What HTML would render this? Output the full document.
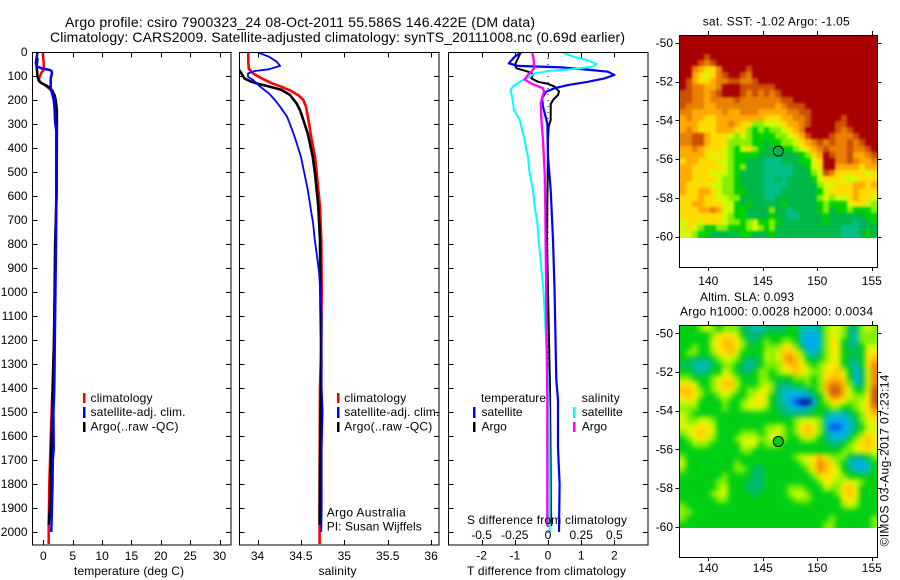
<!DOCTYPE html>
<html>
<head>
<meta charset="utf-8">
<title>Argo profile</title>
<style>
html,body{margin:0;padding:0;background:#fff;}
svg{display:block;}
text{font-family:"Liberation Sans",sans-serif;font-size:12px;fill:#000;}
</style>
</head>
<body>
<svg id="fig" width="900" height="580" viewBox="0 0 900 580" xmlns="http://www.w3.org/2000/svg">
<defs>
<clipPath id="clipT"><rect x="33" y="52" width="198" height="493"/></clipPath>
<clipPath id="clipS"><rect x="240" y="52" width="199" height="493"/></clipPath>
<clipPath id="clipD"><rect x="449" y="52" width="199" height="493"/></clipPath>
<clipPath id="clip-sst"><rect x="680" y="35" width="198" height="203"/></clipPath>
<clipPath id="clip-sla"><rect x="680" y="325" width="198" height="203"/></clipPath>
<filter id="blur-sst" filterUnits="userSpaceOnUse" x="660" y="15" width="240" height="245" color-interpolation-filters="sRGB"><feGaussianBlur stdDeviation="1.2"/></filter>
<filter id="blur-sla" filterUnits="userSpaceOnUse" x="660" y="305" width="240" height="245" color-interpolation-filters="sRGB"><feGaussianBlur stdDeviation="2.6"/></filter>
</defs>
<text x="65" y="27" style="font-size:14px" textLength="470">Argo profile: csiro 7900323_24 08-Oct-2011 55.586S 146.422E (DM data)</text>
<text x="50" y="42" style="font-size:14px" textLength="575">Climatology: CARS2009. Satellite-adjusted climatology: synTS_20111008.nc (0.69d earlier)</text>
<g id="panels"></g>
<g id="legend-t">
<rect x="83" y="393" width="2.5" height="10" fill="#ff0000"/>
<rect x="83" y="407" width="2.5" height="11" fill="#0000ff"/>
<rect x="83" y="422" width="2.5" height="10" fill="#000"/>
<text x="90.5" y="402" textLength="62">climatology</text>
<text x="90.5" y="416" textLength="95">satellite-adj. clim.</text>
<text x="90.5" y="430.5" textLength="88">Argo(..raw -QC)</text>
</g>
<g id="legend-s">
<rect x="337" y="393" width="2.5" height="10" fill="#ff0000"/>
<rect x="337" y="407" width="2.5" height="11" fill="#0000ff"/>
<rect x="337" y="422" width="2.5" height="10" fill="#000"/>
<text x="344.3" y="402" textLength="62">climatology</text>
<text x="344.3" y="416" textLength="95">satellite-adj. clim.</text>
<text x="344.3" y="430.5" textLength="88">Argo(..raw -QC)</text>
</g>
<g id="legend-d">
<text x="481" y="402" textLength="65">temperature</text>
<rect x="473" y="407" width="2.5" height="11" fill="#0000ff"/>
<text x="481.5" y="416" textLength="41">satellite</text>
<rect x="473" y="422" width="2.5" height="10" fill="#000"/>
<text x="481.5" y="430.5">Argo</text>
<text x="581.7" y="402" textLength="38">salinity</text>
<rect x="573" y="407" width="2.5" height="11" fill="#00ffff"/>
<text x="581.7" y="416" textLength="41">satellite</text>
<rect x="573" y="422" width="2.5" height="10" fill="#ff00ff"/>
<text x="581.7" y="430.5">Argo</text>
</g>
<text x="74" y="575" textLength="110">temperature (deg C)</text>
<text x="318.5" y="575" textLength="38">salinity</text>
<text x="467" y="575" textLength="159">T difference from climatology</text>
<text x="467" y="524" textLength="160">S difference from climatology</text>
<text x="326.7" y="516.7" textLength="79">Argo Australia</text>
<text x="326.7" y="530.7" textLength="95">PI: Susan Wijffels</text>
<text x="702.7" y="25.7" textLength="147">sat. SST: -1.02  Argo: -1.05</text>
<text x="700" y="301" textLength="94">Altim. SLA: 0.093</text>
<text x="680" y="315.7" textLength="193">Argo h1000: 0.0028 h2000: 0.0034</text>
<text transform="translate(888.5,546.5) rotate(-90)" x="0" y="0" textLength="172">©IMOS 03-Aug-2017 07:23:14</text>
</svg>
<script>
// ---- profile data (depth in m) ----
const depthTicks = [0,100,200,300,400,500,600,700,800,900,1000,1100,1200,1300,1400,1500,1600,1700,1800,1900,2000];
const tempTicks = [0,5,10,15,20,25,30];
const salTicks = [34,34.5,35,35.5,36];
const salTickLabels = ['34','34.5','35','35.5','36'];
const diffTTicks = [-2,-1,0,1,2];
const diffSTicks = [-0.5,-0.25,0,0.25,0.5];
const diffSTickLabels = ['-0.5','-0.25','0','0.25','0.5'];

const tempClimDepth = [0,46,75,85,110,124,135,155,180,200,240,300,600,800,1000,1200,1400,1500,1650,1800,1975,2050];
const tempClim = [-0.12,0.05,0.05,-0.3,-0.75,-0.65,0.1,1.1,1.8,2.0,2.2,2.25,2.2,2.05,1.95,1.8,1.55,1.4,1.2,1.0,0.9,0.9];
const tempArgoDepth = [25,60,100,120,130,140,150,160,180,200,240,310,600,800,1000,1200,1400,1500,1700,1900,1970];
const tempArgo = [-1,-1.15,-1,-0.8,-0.3,0.55,1.1,1.5,1.9,2.1,2.3,2.3,2.25,2.0,1.9,1.8,1.6,1.5,1.3,1.1,0.9];
const tempSatDepth = [0,25,45,60,68,75,80,90,110,150,170,200,240,290,330,600,800,1000,1200,1400,1500,1650,1700,1800,1900,2000];
const tempSat = [-1,-1.15,-1.3,-1.15,-0.3,1.1,1.4,1.45,1.25,1.25,1.45,1.75,1.9,2.0,2.2,2.2,2.15,2.05,1.95,1.86,1.7,1.75,1.6,1.55,1.45,1.35];

const salClimDepth = [0,40,70,90,110,130,145,160,180,200,228,297,367,436,505,644,783,1000,1200,1400,1800,2050];
const salClim = [33.894,33.894,33.9,33.952,34.048,34.163,34.278,34.374,34.47,34.528,34.559,34.593,34.624,34.662,34.682,34.72,34.735,34.74,34.735,34.72,34.715,34.715];
const salArgoDepth = [75,110,124,133,144,158,179,214,242,283,339,436,506,644,783,1000,1300,1700,1970];
const salArgo = [33.79,33.85,33.93,34.01,34.14,34.278,34.374,34.45,34.49,34.528,34.578,34.636,34.662,34.7,34.72,34.725,34.735,34.72,34.715];
const salSatDepth = [3,19,40,58,72,79,89,103,117,144,172,200,228,269,325,367,436,506,575,644,714,783,917,1100,1400,1500,1650,1900,2000];
const salSat = [34.01,34.13,34.22,34.26,34.13,33.97,33.89,33.89,33.95,34.03,34.13,34.2,34.26,34.34,34.4,34.44,34.5,34.54,34.58,34.61,34.64,34.66,34.71,34.74,34.74,34.75,34.74,34.74,34.735];

const dTSatDepth = [0,19,47,58,64,75,82,96,110,124,138,151,165,193,228,297,436,575,783,1000,1367,1450,1650,1800,2000];
const dTSat = [-0.78,-1.0,-1.18,-0.9,0.4,1.3,1.8,2.0,1.7,1.2,0.6,0.2,-0.05,-0.18,-0.15,-0.02,0,0.08,0.15,0.2,0.25,0.3,0.3,0.35,0.33];
const dTArgoDepth = [0,19,54,68,82,92,110,124,133,144,165,179,200,217,283,311,367,783,1400,1900,1975];
const dTArgo = [-0.82,-0.88,-1.0,-0.95,-0.6,-0.45,-0.5,-0.3,0,0.2,0.33,0.3,0.15,0.08,0.08,0.02,0,-0.03,0.06,0.09,0.1];
const dSSatDepth = [3,19,33,50,61,71,78,89,103,124,144,158,193,242,283,367,436,506,575,644,714,783,1000,1200,1367,1500,1800,2000];
const dSSat = [0.113,0.188,0.289,0.364,0.339,0.201,0.025,-0.1,-0.138,-0.213,-0.264,-0.281,-0.269,-0.256,-0.213,-0.176,-0.151,-0.138,-0.113,-0.1,-0.08,-0.07,-0.033,-0.015,0,0.008,0.013,0.013];
const dSArgoDepth = [3,33,68,82,96,114,128,138,151,165,193,214,283,367,506,644,783,1450,1975];
const dSArgo = [-0.118,-0.108,-0.105,-0.126,-0.151,-0.176,-0.138,-0.1,-0.038,-0.03,-0.045,-0.055,-0.05,-0.038,-0.025,-0.02,-0.018,-0.005,-0.005];

// ---- map data ----
const lonTicks = [140,145,150,155];
const latTicks = [-50,-52,-54,-56,-58,-60];
const argoLon = 146.422;
const argoLat = -55.586;
const sstAtArgo = 1;
const slaAtArgo = 5;
const sstColors = ['#00bf88','#00b84a','#00d000','#82f000','#d2fa00','#ffdc00','#ffaa00','#e88000','#cc5000','#a80000'];
const slaColors = ['#00008c','#0050f0','#00aaf0','#00bebe','#00b96e','#00cf14','#82f000','#d2fa00','#ffe600','#ffbe00','#f08200','#be5a0a'];
const sstGrid = [
[9,9,9,9,9,9,9,9,9,9,9,9,9,9,9,9,9,9,9,9,9,9,9,9,9,9,9,9,9,9,9,9,9],
[9,9,9,9,9,9,9,9,9,9,9,9,9,9,9,9,9,9,9,9,9,9,9,9,9,9,9,9,9,9,9,9,9],
[9,9,9,9,9,9,9,9,9,9,9,9,9,9,9,9,9,9,9,9,9,9,9,9,9,9,9,9,9,9,9,9,9],
[9,9,9,9,8,9,9,9,9,9,9,9,9,9,9,9,9,9,9,9,9,9,9,9,9,9,9,9,9,9,9,9,9],
[9,9,9,8,7,8,9,9,9,9,9,9,9,9,9,9,9,9,9,9,9,9,9,9,9,9,9,9,9,9,9,9,9],
[9,9,7,6,5,5,7,9,9,9,9,8,9,9,9,9,9,9,9,9,9,9,9,9,9,9,9,9,9,9,9,9,9],
[9,9,6,5,4,5,7,8,9,9,8,7,9,9,9,9,9,9,9,9,9,9,9,9,9,9,9,9,9,9,9,9,9],
[9,8,6,5,5,6,7,7,8,8,7,7,8,9,9,9,9,9,9,9,9,9,9,9,9,9,9,9,9,9,9,9,9],
[9,8,7,7,6,6,7,9,9,9,8,8,8,8,8,8,9,9,9,9,9,9,9,9,9,9,9,9,9,9,9,9,9],
[8,8,7,7,6,7,8,9,9,9,8,7,8,7,8,7,8,9,9,9,9,9,9,9,9,9,9,9,9,9,9,9,9],
[8,8,7,7,6,7,7,7,7,8,7,7,7,7,7,7,7,8,8,9,9,9,9,9,9,9,9,9,9,9,9,9,9],
[8,7,7,7,6,6,7,7,7,7,7,7,7,7,7,7,6,7,8,8,8,9,9,9,9,9,9,9,9,9,9,9,9],
[7,7,6,6,6,6,6,7,6,6,7,7,7,6,6,6,6,6,7,7,8,8,9,9,9,9,9,9,9,9,9,9,9],
[6,7,6,6,5,5,6,6,6,6,6,6,6,6,5,5,5,6,6,7,7,8,9,9,9,9,9,8,9,9,9,9,9],
[6,6,6,5,5,5,6,6,7,6,5,5,3,3,4,4,4,5,6,6,7,8,9,9,9,9,8,8,9,9,9,9,9],
[6,7,6,5,5,5,6,6,6,5,5,3,2,3,2,3,3,4,5,6,7,9,9,9,9,9,8,7,8,9,9,9,9],
[7,7,8,8,6,5,5,5,4,3,4,3,2,2,2,2,3,3,4,5,6,8,9,9,9,8,7,7,7,8,9,9,9],
[7,7,8,8,6,5,5,5,3,3,3,3,2,2,1,2,2,3,3,4,5,6,7,8,7,8,7,7,8,7,8,9,9],
[6,6,7,6,5,5,5,4,3,2,4,5,3,2,1,1,1,2,2,3,4,5,6,7,8,7,7,7,8,7,7,8,9],
[6,6,6,6,5,4,5,4,3,2,2,2,2,1,1,1,0,1,1,1,2,3,5,6,9,8,7,7,8,6,6,7,8],
[5,6,6,5,5,5,4,4,3,2,2,1,1,1,0,0,0,1,1,1,2,2,4,5,9,9,7,7,8,7,6,6,7],
[6,6,5,5,5,5,5,4,3,2,3,1,1,1,0,0,0,0,0,1,1,2,4,5,9,9,6,6,6,6,5,6,6],
[6,6,5,5,5,4,4,4,3,2,1,1,1,1,0,0,0,0,0,1,1,1,3,4,8,7,5,5,5,5,5,4,5],
[6,6,5,5,5,5,4,3,3,2,1,1,1,1,0,0,1,0,1,1,1,1,2,4,5,5,5,4,4,4,5,5,5],
[6,5,5,5,5,4,4,3,3,2,1,1,1,1,0,0,0,0,1,1,1,1,1,3,4,4,5,5,5,6,6,5,6],
[6,5,5,6,6,5,4,3,3,2,2,1,1,1,0,0,0,1,1,1,1,1,1,2,4,5,5,5,5,6,5,5,5],
[5,5,5,6,5,5,4,4,3,3,1,1,1,1,0,0,1,1,1,1,1,1,1,3,4,3,4,4,5,6,5,5,4],
[5,5,6,6,5,5,5,4,4,2,1,2,1,1,1,1,1,2,1,1,1,1,1,2,3,2,2,2,4,5,5,4,3],
[5,5,5,6,6,7,6,4,4,2,2,1,1,1,1,3,1,1,0,1,1,1,1,2,3,1,2,2,3,2,2,2,3],
[5,5,5,5,5,5,5,4,3,2,2,1,1,1,1,2,1,1,0,0,1,1,1,1,2,1,1,1,1,1,1,2,2],
[4,5,5,4,5,5,5,4,3,3,2,3,4,2,2,3,2,1,1,1,1,1,1,1,2,1,1,1,1,0,1,1,2],
[4,5,4,3,2,2,3,3,2,2,2,3,4,3,2,3,1,1,1,1,1,1,1,1,1,1,1,0,0,0,1,1,1],
[4,4,3,2,2,1,1,1,1,1,2,2,1,1,1,2,1,1,1,1,1,1,1,1,1,1,1,0,0,0,1,2,1]
];
const slaGrid = [
[5,5,5,6,7,6,5,6,6,6,4,4,3,3,4,4,4,4,5,5,3,3,3,4,6,7,7,6,4,4,6,7,6],
[5,5,5,5,5,6,8,8,8,7,5,4,4,4,5,5,5,5,5,5,3,2,2,3,6,8,7,6,4,3,6,6,6],
[5,5,5,5,5,7,8,9,9,8,6,4,4,5,6,5,5,6,6,5,3,2,2,3,6,8,7,5,4,3,6,6,6],
[5,5,6,5,5,7,8,9,9,8,6,5,5,5,6,6,6,8,8,6,4,2,2,3,6,8,8,5,4,4,5,7,7],
[5,6,6,5,5,6,8,8,9,7,5,5,5,5,7,6,7,9,9,8,6,3,3,4,6,7,8,5,5,4,5,8,8],
[5,5,4,4,4,5,6,7,7,6,5,4,4,5,7,6,7,9,10,9,7,5,4,5,6,8,7,5,4,4,5,8,9],
[4,4,3,3,3,4,5,6,6,5,4,3,4,5,6,6,6,8,9,9,8,6,5,6,7,8,8,5,4,3,5,8,10],
[5,5,4,3,4,5,5,7,6,5,4,4,5,6,6,5,6,7,8,9,8,7,6,6,8,8,9,7,5,2,4,7,10],
[6,6,5,5,5,6,7,8,8,6,5,5,5,6,6,5,5,5,5,6,6,6,5,6,8,9,9,8,5,2,4,7,10],
[8,8,7,5,5,6,8,9,9,7,5,5,5,6,7,6,4,4,4,5,5,6,5,6,9,10,10,9,6,3,4,7,10],
[9,9,8,6,5,6,7,8,8,6,5,6,6,7,8,6,4,3,3,3,3,4,5,6,9,11,11,9,7,5,5,8,11],
[8,9,8,6,5,5,6,7,6,5,5,6,7,8,7,5,4,3,2,2,2,2,4,5,8,10,10,9,7,6,6,8,11],
[7,7,7,5,5,5,5,6,5,5,6,7,8,8,7,5,4,3,2,1,0,0,2,5,6,8,8,7,6,6,7,8,11],
[6,6,6,5,5,5,5,6,5,5,6,7,7,7,6,5,4,4,3,2,2,3,4,5,5,6,6,5,5,6,7,8,10],
[7,6,5,5,5,5,5,5,5,5,5,5,5,5,5,5,5,4,4,4,4,4,5,5,4,3,3,3,4,5,6,8,9],
[7,6,6,7,7,6,5,5,5,5,5,5,5,5,5,5,5,5,5,6,7,7,7,6,3,2,2,2,3,4,6,7,8],
[7,7,8,8,8,7,5,5,5,5,5,5,5,5,6,6,7,6,5,6,8,9,8,6,3,1,1,2,3,4,5,7,7],
[6,7,8,9,8,7,5,5,5,5,6,6,6,5,6,7,7,6,5,6,8,9,8,6,4,2,2,2,3,5,6,8,7],
[5,6,7,8,7,6,5,5,5,6,7,7,7,6,6,7,6,6,5,5,6,7,6,5,4,3,3,3,5,6,8,9,8],
[5,5,6,6,6,5,5,5,5,5,7,7,7,5,6,6,6,5,5,5,5,5,5,5,5,4,4,5,6,7,8,9,8],
[5,5,5,5,5,5,5,5,5,5,6,6,5,5,5,5,5,5,5,5,5,5,5,5,5,5,5,6,6,7,8,8,7],
[6,5,5,5,5,5,5,5,5,5,5,5,5,5,5,5,5,5,5,6,7,7,8,9,8,6,6,6,4,4,4,5,6],
[7,5,5,5,5,5,5,5,5,6,5,5,5,5,5,5,5,5,5,5,6,7,8,10,9,8,6,5,3,2,2,3,5],
[6,5,5,5,5,5,5,5,5,6,6,5,4,4,5,5,5,5,5,5,5,6,8,10,9,8,7,5,4,3,2,3,5],
[5,5,5,5,5,5,5,6,5,5,5,5,4,4,5,5,5,5,5,5,5,5,6,8,8,8,7,6,5,5,5,5,5],
[5,5,5,5,5,5,6,6,5,5,5,4,4,4,5,5,5,5,5,5,5,5,5,6,8,7,6,7,8,7,6,5,5],
[5,5,5,5,5,5,6,7,5,5,5,4,4,4,5,5,5,5,6,6,6,5,5,5,7,6,6,8,9,7,5,5,5],
[5,5,5,5,5,6,7,7,5,5,5,5,4,5,5,5,5,5,6,7,7,6,5,5,5,5,6,8,9,8,5,5,5],
[5,5,5,5,5,5,6,6,5,5,5,5,5,5,5,5,5,5,5,6,6,6,5,5,5,5,5,8,8,7,5,5,5],
[6,5,5,5,5,5,5,5,5,5,5,5,5,5,5,5,5,5,5,5,5,5,5,5,5,5,5,6,7,6,5,5,5],
[6,6,5,5,5,5,5,5,5,5,5,5,5,5,5,5,5,5,5,5,5,5,5,5,5,5,5,5,5,5,5,5,5],
[6,5,5,5,5,5,5,5,5,5,5,5,5,5,5,5,5,5,5,5,5,5,5,5,5,6,5,5,5,5,5,5,6],
[5,5,5,5,5,5,5,5,5,5,5,5,5,5,5,5,5,5,5,5,5,5,5,5,6,6,5,5,5,5,5,5,6]
];

// ---- axis functions ----
const NS = 'http://www.w3.org/2000/svg';
const root = document.getElementById('panels');
function mk(tag, attrs, parent) {
  const el = document.createElementNS(NS, tag);
  for (const k in attrs) el.setAttribute(k, attrs[k]);
  (parent || root).appendChild(el);
  return el;
}
const depthY = d => 52 + d * 0.24;
const tempX = t => 43.4 + t * 5.87;
const salX = s => 257.5 + (s - 34) * 86.8;
const diffTX = t => 548 + t * 33.2;
const diffSX = s => 548 + s * 132.8;

function frame(name, x, y, w, h) {
  const r = mk('rect', {x: x, y: y, width: w, height: h, fill: 'none', stroke: '#000', 'stroke-width': 1, 'shape-rendering': 'crispEdges'});
  
  
}
function tick(name, x1, y1, x2, y2) {
  const l = mk('line', {x1: x1, y1: y1, x2: x2, y2: y2, stroke: '#000', 'stroke-width': 1, 'shape-rendering': 'crispEdges'});
  
  
}
function label(name, x, y, str, anchor) {
  const t = mk('text', {x: x, y: y, 'text-anchor': anchor || 'middle'});
  t.textContent = str;
  
  
}
function series(name, depths, vals, xf, color, width, clip) {
  const pts = depths.map((d, i) => xf(vals[i]).toFixed(1) + ',' + depthY(d).toFixed(1)).join(' ');
  const p = mk('polyline', {points: pts, fill: 'none', stroke: color, 'stroke-width': width, 'stroke-linejoin': 'round', 'clip-path': 'url(#' + clip + ')'});
  
  
}

// ---- temperature panel ----
series('temperature-climatology-line', tempClimDepth, tempClim, tempX, '#ff0000', 2.5, 'clipT');
series('temperature-argo-line', tempArgoDepth, tempArgo, tempX, '#000000', 2.5, 'clipT');
series('temperature-satellite-line', tempSatDepth, tempSat, tempX, '#0000ff', 2.5, 'clipT');
frame('temperature-plot-frame', 32.5, 52.5, 198.5, 492.5);
depthTicks.forEach(d => {
  const y = Math.round(depthY(d)) + 0.5;
  tick('depth-tick', 32.5, y, 37.5, y);
  tick('depth-tick-right', 226, y, 231, y);
  label('depth-tick-label', 27.5, depthY(d) + 4, String(d), 'end');
});
tempTicks.forEach(t => {
  const x = Math.round(tempX(t)) + 0.5;
  tick('temperature-tick', x, 545, x, 540);
  tick('temperature-tick-top', x, 52.5, x, 57.5);
  label('temperature-tick-label', tempX(t), 560, String(t));
});

// ---- salinity panel ----
series('salinity-climatology-line', salClimDepth, salClim, salX, '#ff0000', 2.6, 'clipS');
series('salinity-argo-line', salArgoDepth, salArgo, salX, '#000000', 2.6, 'clipS');
series('salinity-satellite-line', salSatDepth, salSat, salX, '#0000ff', 1.8, 'clipS');
frame('salinity-plot-frame', 239.5, 52.5, 199.5, 492.5);
depthTicks.forEach(d => {
  const y = Math.round(depthY(d)) + 0.5;
  tick('salinity-depth-tick', 239.5, y, 244.5, y);
  tick('salinity-depth-tick-right', 434, y, 439, y);
});
salTicks.forEach((s, i) => {
  const x = Math.round(salX(s)) + 0.5;
  tick('salinity-tick', x, 545, x, 540);
  tick('salinity-tick-top', x, 52.5, x, 57.5);
  label('salinity-tick-label', salX(s), 560, salTickLabels[i]);
});

// ---- difference panel ----
const zero = mk('line', {x1: diffTX(0), y1: 52, x2: diffTX(0), y2: 540, stroke: '#000', 'stroke-width': 1, 'stroke-dasharray': '1 5', 'shape-rendering': 'crispEdges'});


series('t-diff-argo-line', dTArgoDepth, dTArgo, diffTX, '#000000', 2, 'clipD');
series('t-diff-satellite-line', dTSatDepth, dTSat, diffTX, '#0000ff', 2.2, 'clipD');
series('s-diff-satellite-line', dSSatDepth, dSSat, diffSX, '#00ffff', 2, 'clipD');
series('s-diff-argo-line', dSArgoDepth, dSArgo, diffSX, '#ff00ff', 2.3, 'clipD');
frame('difference-plot-frame', 448.5, 52.5, 199.5, 492.5);
depthTicks.forEach(d => {
  const y = Math.round(depthY(d)) + 0.5;
  tick('difference-depth-tick', 448.5, y, 453.5, y);
  tick('difference-depth-tick-right', 643, y, 648, y);
});
diffTTicks.forEach(t => {
  const x = Math.round(diffTX(t)) + 0.5;
  tick('t-difference-tick', x, 545, x, 540);
  tick('t-difference-tick-top', x, 52.5, x, 57.5);
  label('t-difference-tick-label', diffTX(t), 559.5, String(t));
});
diffSTicks.forEach((s, i) => {
  label('s-difference-tick-label', diffSX(s), 539, diffSTickLabels[i]);
});

// ---- maps ----
const lonX = lon => 708.3 + (lon - 140) * 10.9;
const lonStart = 137.36;
const lonEnd = 155.52;
const latStart = -49.6;
const latEnd = -60.04;
function drawMap(prefix, grid, colors, top, lat50, boxBottom, xLabelY, argoValue) {
  const latY = lat => lat50 + (-50 - lat) * 19.36;
  const nR = grid.length;
  const nC = grid[0].length;
  const dLon = (lonEnd - lonStart) / nC;
  const dLat = (latStart - latEnd) / nR;
  const clipGroup = mk('g', {'clip-path': 'url(#clip-' + prefix + ')'});
  
  
  const blurGroup = mk('g', {filter: 'url(#blur-' + prefix + ')'}, clipGroup);
  
  
  grid.forEach((row, r) => {
    row.forEach((v, c) => {
      // outermost cells bleed past the clip so the smoothing does not fade at the edges
      const x0 = Math.round(lonX(lonStart + c * dLon)) - (c === 0 ? 10 : 0);
      const x1 = Math.round(lonX(lonStart + (c + 1) * dLon)) + (c === nC - 1 ? 10 : 0);
      const y0 = Math.round(latY(latStart - r * dLat)) - (r === 0 ? 10 : 0);
      const y1 = Math.round(latY(latStart - (r + 1) * dLat)) + (r === nR - 1 ? 10 : 0);
      const cell = mk('rect', {x: x0, y: y0, width: x1 - x0, height: y1 - y0, fill: colors[v], 'shape-rendering': 'crispEdges'}, blurGroup);
      
      
    });
  });
  frame(prefix + '-map-frame', 679.5, top + 0.5, 198, boxBottom - top);
  lonTicks.forEach(lon => {
    const x = Math.round(lonX(lon)) + 0.5;
    tick(prefix + '-lon-tick', x, boxBottom, x, boxBottom + 4);
    tick(prefix + '-lon-tick-top', x, top, x, top - 4);
    label(prefix + '-lon-tick-label', lonX(lon), xLabelY, String(lon));
  });
  latTicks.forEach(lat => {
    const y = Math.round(latY(lat)) + 0.5;
    tick(prefix + '-lat-tick', 675.5, y, 679.5, y);
    tick(prefix + '-lat-tick-right', 877.5, y, 881.5, y);
    label(prefix + '-lat-tick-label', 673, latY(lat) + 4, String(lat), 'end');
  });
  const c = mk('circle', {cx: lonX(argoLon), cy: latY(argoLat), r: 5, fill: colors[argoValue], stroke: '#000', 'stroke-width': 1});
  
  
}
drawMap('sst', sstGrid, sstColors, 35, 43, 267, 285, sstAtArgo);
drawMap('sla', slaGrid, slaColors, 325, 333.3, 557, 572, slaAtArgo);
</script>
</body>
</html>
